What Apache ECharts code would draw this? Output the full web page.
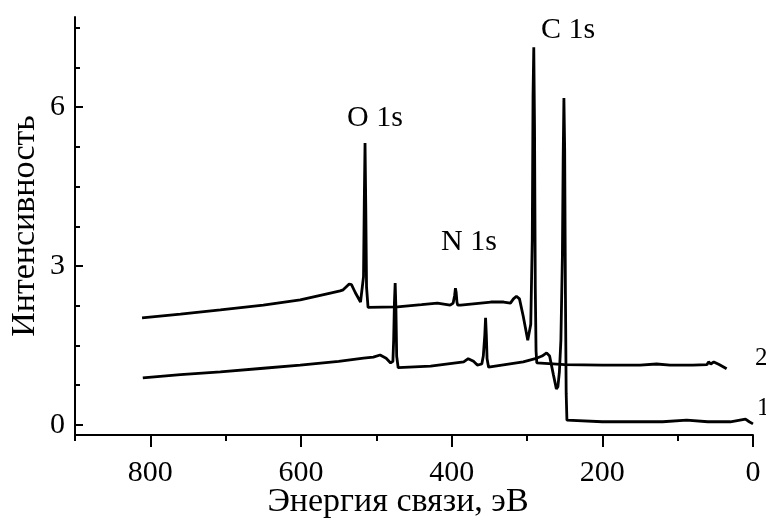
<!DOCTYPE html>
<html>
<head>
<meta charset="utf-8">
<script src="https://cdn.jsdelivr.net/npm/echarts@6/dist/echarts.min.js"></script>
<style>
  html, body { margin: 0; padding: 0; background: #fff; }
  #main { width: 766px; height: 520px; }
</style>
</head>
<body>
<div id="main"></div>
<script>
// spectrum 2 (upper curve): binding energy, eV / intensity
var energy2 = [811, 760, 707, 650, 601, 561, 548, 544, 536, 533, 528, 521, 519, 517, 516, 515, 514, 513, 511, 509,
    472, 440, 419, 402, 398, 396, 395, 394, 393, 392, 388, 348, 331, 322, 318, 314, 310, 305, 301, 299,
    297, 295, 293, 292, 291, 290, 289, 288, 287, 250, 200, 150, 128, 110, 80, 61, 59, 56, 52, 45, 35];
var int2 = [2.02, 2.09, 2.17, 2.26, 2.36, 2.49, 2.53, 2.55, 2.66, 2.65, 2.5, 2.32, 2.35, 2.8, 4.2, 5.32, 4.1, 2.6, 2.22, 2.21,
    2.23, 2.27, 2.3, 2.26, 2.3, 2.45, 2.58, 2.5, 2.32, 2.26, 2.26, 2.32, 2.32, 2.3, 2.38, 2.43, 2.38, 2.05, 1.75, 1.6,
    1.62, 1.9, 3.5, 6.2, 7.13, 5.6, 2.6, 1.4, 1.17, 1.14, 1.13, 1.13, 1.15, 1.13, 1.13, 1.14, 1.19, 1.15, 1.19, 1.14, 1.06];

// spectrum 1 (lower curve)
var energy1 = [810, 760, 707, 650, 601, 550, 517, 504, 495, 487, 481, 478, 477, 476, 475, 474, 473, 471, 428, 384,
    378, 371, 366, 360, 358, 356, 355, 354, 353, 351, 305, 289, 280, 274, 270, 265, 261, 259, 257, 255,
    253, 252, 251, 250, 249, 248, 247, 200, 150, 120, 88, 60, 30, 10, 5, 0];
var int1 = [0.89, 0.95, 1.0, 1.07, 1.13, 1.2, 1.26, 1.28, 1.32, 1.26, 1.17, 1.2, 1.6, 2.3, 2.68, 2.2, 1.3, 1.08, 1.11, 1.19,
    1.25, 1.2, 1.13, 1.15, 1.3, 1.7, 2.02, 1.7, 1.25, 1.09, 1.19, 1.25, 1.3, 1.36, 1.3, 0.95, 0.68, 0.72, 1.0, 1.6,
    3.2, 5.0, 6.17, 5.2, 2.5, 0.6, 0.09, 0.06, 0.06, 0.06, 0.09, 0.06, 0.06, 0.11, 0.06, 0.02];

var xMajor = [0, 200, 400, 600, 800];
var xMinor = [100, 300, 500, 700, 900];
var yMajor = [0, 3, 6];
var yMinor = [0.75, 1.5, 2.25, 3.75, 4.5, 5.25, 6.75, 7.5];

function pairs(xs, ys) {
    return xs.map(function (x, i) { return [x, ys[i]]; });
}

var font = 'Liberation Serif';
var chart = echarts.init(document.getElementById('main'));

// same box twice: grid 0 holds the data, grid 1 only draws the short (minor) ticks
var box = { left: 75, right: 13, top: 17, bottom: 85, outerBoundsMode: 'none', containLabel: false };

var option = {
    backgroundColor: '#fff',
    animation: false,
    grid: [box, box],
    xAxis: [
        {
            type: 'value', gridIndex: 0, min: 0, max: 900, inverse: true,
            name: 'Энергия связи, эВ', nameLocation: 'middle', nameGap: 50, nameMoveOverlap: false,
            nameTextStyle: { fontFamily: font, fontSize: 34, color: '#000', padding: [0, 32, 0, 0] },
            axisLine: { onZero: false, lineStyle: { color: '#000', width: 2 } },
            axisTick: { customValues: xMajor, length: 12, lineStyle: { color: '#000', width: 2 } },
            axisLabel: { customValues: xMajor, margin: 23, fontFamily: font, fontSize: 30, color: '#000' },
            splitLine: { show: false }
        },
        {
            type: 'value', gridIndex: 1, min: 0, max: 900, inverse: true, position: 'bottom',
            axisLine: { show: false, onZero: false },
            axisTick: { customValues: xMinor, length: 6, lineStyle: { color: '#000', width: 2 } },
            axisLabel: { show: false },
            splitLine: { show: false }
        }
    ],
    yAxis: [
        {
            type: 'value', gridIndex: 0, min: -0.19, max: 7.7,
            name: 'Интенсивность', nameLocation: 'middle', nameGap: 33, nameMoveOverlap: false,
            nameTextStyle: { fontFamily: font, fontSize: 34, color: '#000' },
            axisLine: { onZero: false, lineStyle: { color: '#000', width: 2 } },
            axisTick: { customValues: yMajor, inside: true, length: 8, lineStyle: { color: '#000', width: 2 } },
            axisLabel: { customValues: yMajor, margin: 10, fontFamily: font, fontSize: 30, color: '#000' },
            splitLine: { show: false }
        },
        {
            type: 'value', gridIndex: 1, min: -0.19, max: 7.7, position: 'left',
            axisLine: { show: false, onZero: false },
            axisTick: { customValues: yMinor, inside: true, length: 5, lineStyle: { color: '#000', width: 2 } },
            axisLabel: { show: false },
            splitLine: { show: false }
        }
    ],
    series: [
        {
            name: '2', type: 'line', xAxisIndex: 0, yAxisIndex: 0,
            data: pairs(energy2, int2), showSymbol: false,
            lineStyle: { color: '#000', width: 2.8 }
        },
        {
            name: '1', type: 'line', xAxisIndex: 0, yAxisIndex: 0,
            data: pairs(energy1, int1), showSymbol: false,
            lineStyle: { color: '#000', width: 2.8 }
        }
    ],
    graphic: [
        { type: 'text', x: 375, y: 118, style: { text: 'O 1s', font: '30px "Liberation Serif"', fill: '#000', align: 'center', verticalAlign: 'middle' } },
        { type: 'text', x: 469, y: 242, style: { text: 'N 1s', font: '30px "Liberation Serif"', fill: '#000', align: 'center', verticalAlign: 'middle' } },
        { type: 'text', x: 568, y: 30, style: { text: 'C 1s', font: '30px "Liberation Serif"', fill: '#000', align: 'center', verticalAlign: 'middle' } },
        { type: 'text', x: 755, y: 358, style: { text: '2', font: '25px "Liberation Serif"', fill: '#000', align: 'left', verticalAlign: 'middle' } },
        { type: 'text', x: 757, y: 408, style: { text: '1', font: '25px "Liberation Serif"', fill: '#000', align: 'left', verticalAlign: 'middle' } }
    ]
};
chart.setOption(option);
</script>
</body>
</html>
